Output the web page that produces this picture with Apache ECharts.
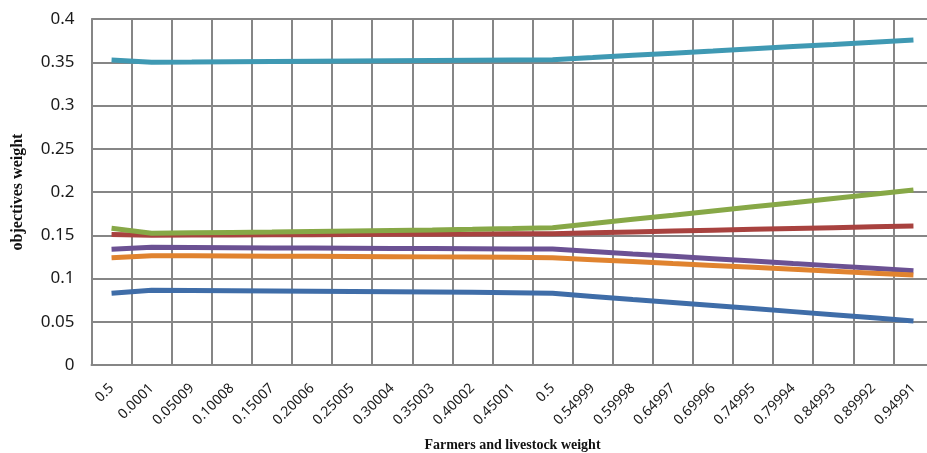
<!DOCTYPE html>
<html>
<head>
<meta charset="utf-8">
<script src="https://cdn.jsdelivr.net/npm/echarts@6/dist/echarts.min.js"></script>
<style>
html,body{margin:0;padding:0;background:#fff;}
#chart{width:927px;height:453px;}
</style>
</head>
<body>
<div id="chart"></div>
<script>
const categories = ['0.5','0.0001','0.05009','0.10008','0.15007','0.20006','0.25005','0.30004','0.35003','0.40002','0.45001','0.5','0.54999','0.59998','0.64997','0.69996','0.74995','0.79994','0.84993','0.89992','0.94991'];
const yTicks = [0, 0.05, 0.1, 0.15, 0.2, 0.25, 0.3, 0.35, 0.4];

const seriesBlue   = [0.0829,0.0865,0.0862,0.0859,0.0856,0.0853,0.0850,0.0847,0.0844,0.0840,0.0836,0.0829,0.0793,0.0757,0.0722,0.0687,0.0652,0.0617,0.0581,0.0545,0.0509];
const seriesRed    = [0.1510,0.1500,0.1502,0.1503,0.1505,0.1507,0.1509,0.1511,0.1513,0.1514,0.1516,0.1518,0.1528,0.1538,0.1548,0.1558,0.1568,0.1578,0.1588,0.1598,0.1607];
const seriesGreen  = [0.1580,0.1523,0.1528,0.1533,0.1538,0.1544,0.1550,0.1556,0.1562,0.1569,0.1577,0.1587,0.1635,0.1684,0.1732,0.1781,0.1829,0.1877,0.1926,0.1974,0.2023];
const seriesPurple = [0.1337,0.1360,0.1358,0.1356,0.1354,0.1352,0.1350,0.1348,0.1346,0.1344,0.1342,0.1340,0.1312,0.1284,0.1257,0.1229,0.1201,0.1173,0.1146,0.1118,0.1090];
const seriesTeal   = [0.3526,0.3500,0.3502,0.3505,0.3508,0.3511,0.3514,0.3517,0.3520,0.3523,0.3526,0.3529,0.3554,0.3580,0.3605,0.3630,0.3656,0.3681,0.3706,0.3732,0.3757];
const seriesOrange = [0.1240,0.1264,0.1262,0.1260,0.1258,0.1256,0.1254,0.1252,0.1250,0.1248,0.1245,0.1240,0.1218,0.1196,0.1173,0.1151,0.1129,0.1107,0.1084,0.1062,0.1040];

const chart = echarts.init(document.getElementById('chart'), null, {renderer:'canvas'});
const gridColor = '#868686';
function line(name, data, color){
  return {name, type:'line', data, symbol:'none', smooth:false,
    lineStyle:{color, width:5}, itemStyle:{color}, animation:false};
}
chart.setOption({
  animation:false,
  backgroundColor:'#fff',
  grid:{left:91.5, top:19, width:842, height:346, containLabel:false, outerBoundsMode:'none'},
  xAxis:{
    type:'category', data:categories, boundaryGap:true,
    axisLine:{show:true, lineStyle:{color:gridColor, width:2}},
    axisTick:{show:false},
    splitLine:{show:true, interval:0, lineStyle:{color:gridColor, width:2}},
    axisLabel:{interval:0, rotate:45, margin:21, color:'#1a1a1a', fontFamily:'Noto Sans', fontSize:14},
    name:'Farmers and livestock weight', nameLocation:'middle', nameGap:73,
    nameTextStyle:{fontFamily:'Liberation Serif', fontWeight:'bold', fontSize:14, color:'#111'}
  },
  yAxis:{
    type:'value', min:yTicks[0], max:yTicks[yTicks.length-1], interval:0.05,
    axisLine:{show:true, lineStyle:{color:gridColor, width:2}},
    axisTick:{show:false},
    splitLine:{show:true, lineStyle:{color:gridColor, width:2}},
    axisLabel:{color:'#1a1a1a', fontFamily:'Noto Sans', fontSize:17, margin:17},
    name:'objectives weight', nameLocation:'middle', nameGap:66, nameRotate:90,
    nameTextStyle:{fontFamily:'Liberation Serif', fontWeight:'bold', fontSize:16, color:'#111'}
  },
  series:[
    line('S1', seriesBlue, '#3f6da8'),
    line('S2', seriesRed, '#a8423f'),
    line('S3', seriesGreen, '#87a847'),
    line('S4', seriesPurple, '#6b5193'),
    line('S5', seriesTeal, '#3f99b3'),
    line('S6', seriesOrange, '#e0832f')
  ]
});
</script>
</body>
</html>
